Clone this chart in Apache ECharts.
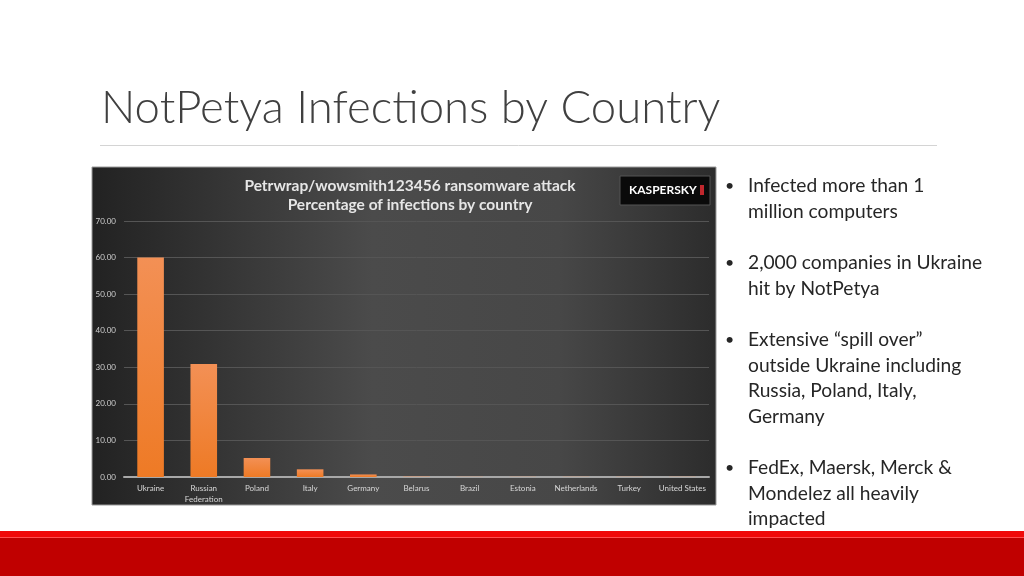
<!DOCTYPE html>
<html>
<head>
<meta charset="utf-8">
<script src="https://cdn.jsdelivr.net/npm/echarts@6/dist/echarts.min.js"></script>
<style>
html,body{margin:0;padding:0;background:#fff;}
#c{width:1024px;height:576px;}
</style>
</head>
<body>
<div id="c"></div>
<script>
const slideTitle = 'NotPetya Infections by Country';
const chartTitle = 'Petrwrap/wowsmith123456 ransomware attack\nPercentage of infections by country';
const categories = ['Ukraine','Russian\nFederation','Poland','Italy','Germany','Belarus','Brazil','Estonia','Netherlands','Turkey','United States'];
const values = [60.0, 30.9, 5.2, 2.1, 0.7, 0.1, 0.05, 0.05, 0.05, 0.05, 0.05];
const bullets = [
  ['Infected more than 1','million computers'],
  ['2,000 companies in Ukraine','hit by NotPetya'],
  ['Extensive \u201cspill over\u201d','outside Ukraine including','Russia, Poland, Italy,','Germany'],
  ['FedEx, Maersk, Merck &','Mondelez all heavily','impacted']
];
const bulletTops = [185, 262, 339, 467];

const chart = echarts.init(document.getElementById('c'), null, {renderer:'canvas'});
const F = 'Lato, "Open Sans", sans-serif';

const g = [];
// chart image background
g.push({type:'rect', z:-10, silent:true, shape:{x:92,y:167,width:624,height:338},
  style:{fill:new echarts.graphic.LinearGradient(0,0,1,0,[
    {offset:0,color:'#222222'},{offset:0.45,color:'#4b4b4b'},{offset:0.75,color:'#474747'},{offset:1,color:'#2c2c2c'}]),
    stroke:'#9a9a9a', lineWidth:1}});
// title + rule
g.push({type:'text', left:101, top:85, style:{text:slideTitle, font:'300 45.5px '+F, fill:'#404040'}});
g.push({type:'line', shape:{x1:100,y1:145.5,x2:937,y2:145.5}, style:{stroke:'#d4d4d4', lineWidth:1}});
// kaspersky logo
g.push({type:'rect', shape:{x:620,y:176,width:90,height:29}, style:{fill:'#0a0a0a', stroke:'#555', lineWidth:1}});
g.push({type:'text', left:629, top:184, style:{text:'KASPERSKY', font:'bold 12px '+F, fill:'#ffffff'}});
g.push({type:'rect', shape:{x:700,y:185,width:4,height:10}, style:{fill:'#c0272d'}});
// bullets
bullets.forEach((b,i)=>{
  g.push({type:'text', left:725, top:bulletTops[i]-7, style:{text:'\u2022', font:'16px '+F, fill:'#262626'}});
  g.push({type:'text', left:748, top:bulletTops[i]-12, style:{text:b.join('\n'), font:'19.2px '+F, lineHeight:25.7, fill:'#262626'}});
});
// footer
g.push({type:'rect', shape:{x:0,y:531,width:1024,height:6}, style:{fill:'#f00a0a'}});
g.push({type:'rect', shape:{x:0,y:537,width:1024,height:1}, style:{fill:'#ff5050'}});
g.push({type:'rect', shape:{x:0,y:538,width:1024,height:38}, style:{fill:'#c00000'}});

chart.setOption({
  animation:false,
  backgroundColor:'#ffffff',
  title:{text:chartTitle, left:405, textAlign:'center', top:171,
    textStyle:{color:'#e6e6e6', fontFamily:F, fontSize:15.5, fontWeight:'bold', lineHeight:19}},
  grid:{left:124, right:315, top:221, bottom:99},
  xAxis:{type:'category', data:categories,
    axisLine:{lineStyle:{color:'#a8a8a8', width:2}},
    axisTick:{show:false},
    axisLabel:{color:'#d8d8d8', fontFamily:F, fontSize:8, margin:6, lineHeight:11, interval:0}},
  yAxis:{type:'value', min:0, max:70, interval:10,
    axisLine:{show:false}, axisTick:{show:false},
    splitLine:{lineStyle:{color:'#555555', width:1}},
    axisLabel:{color:'#cfcfcf', fontFamily:F, fontSize:8, margin:8, formatter:v=>v.toFixed(2)}},
  series:[{type:'bar', data:values, barWidth:'50%',
    itemStyle:{color:new echarts.graphic.LinearGradient(0,0,0,1,[{offset:0,color:'#f39055'},{offset:1,color:'#ee7a25'}])}}],
  graphic:g
});
</script>
</body>
</html>
